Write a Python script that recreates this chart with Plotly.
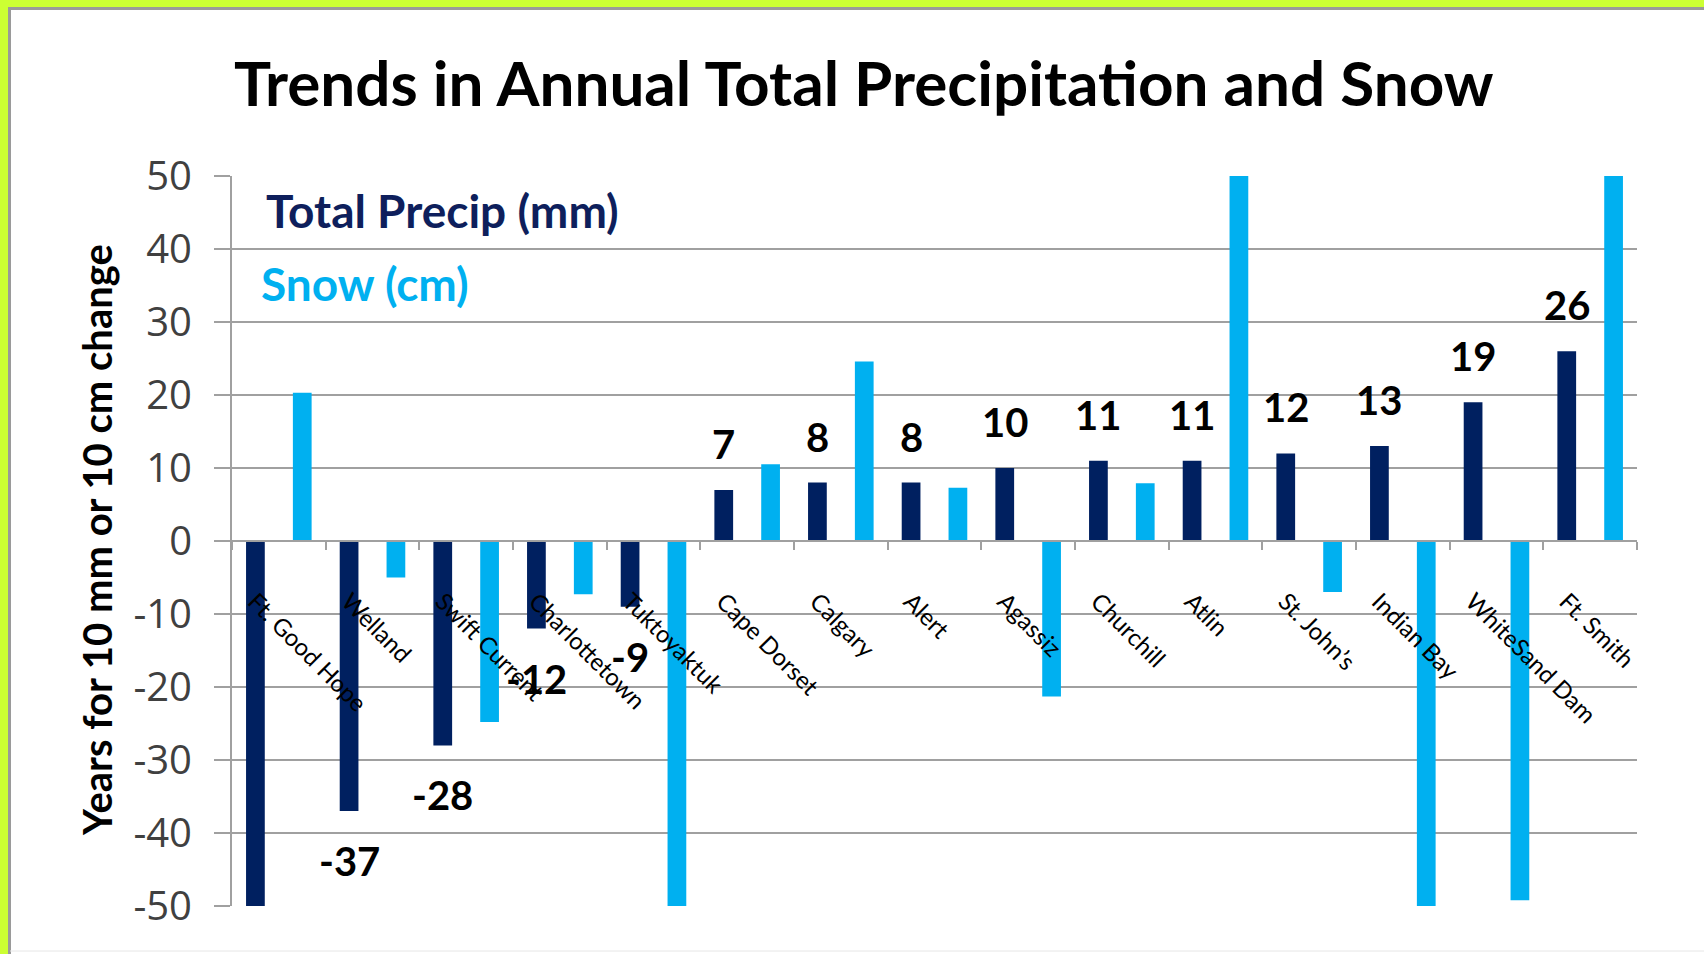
import plotly.graph_objects as go

# Stations, in plotting order
stations = ["Ft. Good Hope", "Welland", "Swift Current", "Charlottetown", "Tuktoyaktuk",
            "Cape Dorset", "Calgary", "Alert", "Agassiz", "Churchill", "Atlin",
            "St. John\u2019s", "Indian Bay", "WhiteSand Dam", "Ft. Smith"]

# Years for a 10 mm change in total precipitation
precip_years = [-52, -37, -28, -12, -9, 7, 8, 8, 10, 11, 11, 12, 13, 19, 26]
# Labels printed above / below the precipitation bars (None = no label)
precip_labels = [None, -37, -28, -12, -9, 7, 8, 8, 10, 11, 11, 12, 13, 19, 26]

# Years for a 10 cm change in snowfall
snow_years = [20.3, -5.0, -24.8, -7.3, -52, 10.5, 24.6, 7.3, -21.3, 7.9, 52, -7.0, -52, -49.2, 52]

y_ticks = [50, 40, 30, 20, 10, 0, -10, -20, -30, -40, -50]

NAVY = "#002060"
SKY = "#00B0F0"
GRID = "#A0A0A0"
LIME = "#CCFF33"

W, H = 1704, 954
ML, MR, MT, MB = 232, 67, 176, 48
PW, PH = W - ML - MR, H - MT - MB


def px_x(px):
    return (px - ML) / PW


def px_y(py):
    return (H - MB - py) / PH


fig = go.Figure()
fig.add_trace(go.Bar(x=stations, y=precip_years, name="Total Precip (mm)",
                     marker=dict(color=NAVY, line=dict(width=0))))
fig.add_trace(go.Bar(x=stations, y=snow_years, name="Snow (cm)",
                     marker=dict(color=SKY, line=dict(width=0))))

annotations = []
slot_px = PW / len(stations) / 4.0
for name, lab in zip(stations, precip_labels):
    if lab is None:
        continue
    annotations.append(dict(
        x=name, y=lab, xref="x", yref="y", text=str(lab), showarrow=False,
        xshift=-slot_px, yshift=46 if lab > 0 else -50,
        xanchor="center", yanchor="middle",
        font=dict(family="Lato", size=40, color="#000000", weight="bold")))

# Series key in the upper-left corner
annotations.append(dict(x=px_x(264), y=px_y(210), xref="paper", yref="paper",
                        text="<b>Total Precip (mm)</b>", showarrow=False,
                        xanchor="left", yanchor="middle",
                        font=dict(family="Lato", size=46, color="#0E1F5C")))
annotations.append(dict(x=px_x(259), y=px_y(283), xref="paper", yref="paper",
                        text="<b>Snow (cm)</b>", showarrow=False,
                        xanchor="left", yanchor="middle",
                        font=dict(family="Lato", size=46, color=SKY)))

# Axis title
annotations.append(dict(x=px_x(97), y=px_y(540), xref="paper", yref="paper",
                        text="<b>Years for 10 mm or 10 cm change</b>", showarrow=False,
                        textangle=-90, xanchor="center", yanchor="middle",
                        font=dict(family="Lato", size=40, color="#000000")))

# Chart title
annotations.append(dict(x=px_x(864), y=px_y(82), xref="paper", yref="paper",
                        text="<b>Trends in Annual Total Precipitation and Snow</b>",
                        showarrow=False, xanchor="center", yanchor="middle",
                        font=dict(family="Lato", size=62, color="#000000")))

# Lime frame on the top and left edges, with a grey rule inside it
shapes = [
    dict(type="rect", xref="paper", yref="paper", layer="below",
         x0=px_x(0), x1=px_x(W), y0=px_y(7), y1=px_y(0),
         fillcolor=LIME, line=dict(width=0)),
    dict(type="rect", xref="paper", yref="paper", layer="below",
         x0=px_x(0), x1=px_x(8), y0=px_y(H), y1=px_y(0),
         fillcolor=LIME, line=dict(width=0)),
    dict(type="line", xref="paper", yref="paper", layer="below",
         x0=px_x(8), x1=px_x(W), y0=px_y(8.5), y1=px_y(8.5),
         line=dict(color="#9A9A9A", width=3)),
    dict(type="line", xref="paper", yref="paper", layer="below",
         x0=px_x(9.5), x1=px_x(9.5), y0=px_y(H), y1=px_y(8),
         line=dict(color="#9A9A9A", width=3)),
    dict(type="line", xref="paper", yref="paper", layer="below",
         x0=px_x(10), x1=px_x(W), y0=px_y(951), y1=px_y(951),
         line=dict(color="#E6E6E6", width=1)),
]

fig.update_layout(
    width=W, height=H,
    margin=dict(l=ML, r=MR, t=MT, b=MB),
    paper_bgcolor="#FFFFFF",
    plot_bgcolor="#FFFFFF",
    barmode="group", bargap=0.0, bargroupgap=0.6,
    showlegend=False,
    annotations=annotations,
    shapes=shapes,
    xaxis=dict(
        type="category", anchor="free", position=0.5,
        showline=True, linecolor=GRID, linewidth=2,
        ticks="outside", tickson="boundaries", ticklen=8, tickcolor=GRID, tickwidth=2,
        showgrid=False, tickangle=45,
        tickfont=dict(family="Lato", size=24, color="#000000"),
        ticklabelstandoff=36, ticklabelshift=-24,
        range=[-0.5, len(stations) - 0.5],
    ),
    yaxis=dict(
        range=[-50, 50], tickvals=y_ticks, ticktext=[str(v) for v in y_ticks],
        showline=True, linecolor=GRID, linewidth=2,
        ticks="outside", ticklen=16, tickcolor=GRID, tickwidth=2,
        showgrid=True, gridcolor=GRID, gridwidth=2, zeroline=False,
        tickfont=dict(family="Open Sans", size=40, color="#404040"),
        ticklabelstandoff=14,
    ),
)

fig.write_html("out.html")
